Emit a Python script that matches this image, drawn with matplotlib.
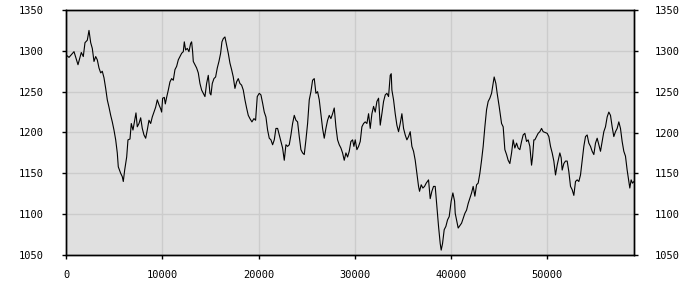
import matplotlib
matplotlib.use("Agg")
import matplotlib.pyplot as plt

x_vals = [
    0, 312, 831, 1246, 1589, 1796, 1973, 2212, 2388, 2565, 2731, 2908, 3084, 3250,
    3427, 3603, 3769, 3946, 4122, 4289, 4465, 4642, 4808, 4984, 5161, 5327, 5431,
    5680, 5846, 5950, 6095, 6303, 6438, 6646, 6781, 6957, 7134, 7269, 7404, 7580,
    7757, 7923, 8100, 8276, 8442, 8619, 8795, 8961, 9138, 9314, 9481, 9657, 9834,
    9934, 10038, 10211, 10315, 10453, 10626, 10799, 10972, 11145, 11318, 11492,
    11665, 11838, 12011, 12184, 12288, 12426, 12599, 12772, 12945, 13049, 13153,
    13222, 13395, 13568, 13741, 13914, 14087, 14260, 14433, 14606, 14779, 14953,
    15056, 15195, 15368, 15541, 15714, 15887, 16060, 16198, 16337, 16510, 16683,
    16856, 17029, 17202, 17375, 17548, 17721, 17894, 18067, 18240, 18414, 18587,
    18760, 18933, 19106, 19313, 19521, 19694, 19867,
    20076, 20249, 20422, 20595, 20768, 20941, 21114, 21287, 21461, 21634, 21807,
    21980, 22153, 22326, 22499, 22672, 22845, 23018, 23191, 23364, 23537, 23710,
    23883, 24056, 24229, 24402, 24575, 24748, 24922, 25095, 25268, 25441, 25614,
    25787, 25960, 26133, 26306, 26479, 26652, 26825, 26998, 27171, 27344, 27517,
    27690, 27863, 28036, 28209, 28383, 28556, 28729, 28902, 29075, 29248, 29421,
    29594, 29767, 29905,
    30044, 30217, 30390, 30563, 30736, 30909, 31082, 31255, 31429, 31602, 31775,
    31948, 32121, 32294, 32467, 32640, 32813, 32986, 33159, 33332, 33505, 33678,
    33782, 33851, 34024, 34197, 34370, 34543, 34716, 34890, 35063, 35236, 35409,
    35582, 35755, 35928, 36101, 36274, 36447, 36620, 36724, 36897, 37070, 37243,
    37416, 37658, 37831, 38004, 38177, 38350, 38523, 38697, 38870, 38973, 39112,
    39285, 39458, 39631, 39804,
    40010, 40186, 40362, 40430, 40737, 41090, 41432, 41609, 41775, 42128, 42294,
    42471, 42647, 42813, 42990, 43166, 43333, 43509, 43686, 43852, 44028, 44205,
    44371, 44475, 44651, 44786, 44994, 45243, 45410, 45586, 45763, 45929, 46105,
    46282, 46448, 46624, 46801, 46967, 47143, 47320, 47486, 47663, 47839, 48005,
    48182, 48358, 48462, 48597, 48701, 48877, 49044, 49220, 49397, 49563,
    49982, 50155, 50328, 50501, 50674, 50847, 51020, 51297, 51436, 51540, 51713,
    51886, 52059, 52232, 52405, 52578, 52751, 52924, 53097, 53270, 53443, 53616,
    53789, 53962, 54135, 54308, 54481, 54654, 54828, 55001, 55174, 55347, 55520,
    55693, 55866, 56039, 56212, 56385, 56558, 56731, 56904, 57077, 57250, 57423,
    57596, 57769, 57942, 58115, 58288, 58461, 58565, 58704, 58842, 59000,
]

y_vals = [
    1295, 1292, 1299, 1283, 1298, 1293, 1310, 1313, 1325, 1310, 1303, 1287, 1293, 1289,
    1279, 1273, 1275, 1267, 1254, 1240, 1231, 1221, 1213, 1203, 1191, 1175, 1158,
    1150, 1146, 1140, 1154, 1170, 1191, 1192, 1211, 1203, 1215, 1224, 1207, 1211,
    1218, 1205, 1197, 1193, 1203, 1215, 1211, 1219, 1225, 1231, 1240, 1234, 1229,
    1225, 1242, 1243, 1235, 1243, 1252, 1262, 1266, 1264, 1277, 1281,
    1289, 1293, 1297, 1299, 1311, 1301, 1303, 1299, 1309, 1311, 1299,
    1287, 1283, 1279, 1273, 1260, 1252, 1248, 1244, 1260, 1270, 1248,
    1246, 1260, 1266, 1268, 1279, 1287, 1297, 1311, 1315, 1317, 1307,
    1297, 1285, 1277, 1268, 1254, 1262, 1266, 1260, 1258, 1252, 1240,
    1230, 1221, 1217, 1213, 1217, 1215, 1244,
    1248, 1246, 1236, 1225, 1219, 1203, 1193, 1191, 1185, 1191, 1205,
    1205, 1197, 1189, 1181, 1166, 1185, 1183, 1185, 1197, 1211, 1221,
    1215, 1213, 1195, 1179, 1175, 1173, 1191, 1211, 1240, 1250, 1264,
    1266, 1248, 1250, 1240, 1223, 1205, 1193, 1205, 1215, 1221, 1217,
    1223, 1230, 1207, 1191, 1185, 1181, 1175, 1166, 1175, 1170, 1177,
    1189, 1191, 1183,
    1191, 1179, 1183, 1189, 1207, 1211, 1213, 1211, 1223, 1205, 1223,
    1232, 1225, 1238, 1242, 1209, 1223, 1238, 1246, 1248, 1244, 1270,
    1272, 1252, 1240, 1223, 1209, 1201, 1211, 1223, 1205, 1197, 1191,
    1195, 1201, 1183, 1177, 1166, 1150, 1134, 1128, 1136, 1132, 1134,
    1138, 1142, 1119, 1128, 1134, 1134, 1109, 1085, 1064, 1056, 1064,
    1081, 1085, 1093, 1097,
    1116, 1126, 1116, 1101, 1083, 1089, 1101, 1105, 1113, 1126, 1134,
    1122, 1136, 1138, 1150, 1166, 1183, 1207, 1228, 1238, 1242, 1248,
    1260, 1268, 1260, 1248, 1232, 1211, 1207, 1179, 1173, 1166, 1162,
    1175, 1191, 1181, 1187, 1181, 1179, 1189, 1197, 1199, 1189, 1191,
    1183, 1160, 1170, 1191, 1191, 1195, 1199, 1201, 1205, 1201,
    1199, 1195, 1183, 1175, 1165, 1148, 1160, 1175, 1169, 1154, 1162,
    1165, 1165, 1152, 1134, 1130, 1123, 1140, 1142, 1140, 1148, 1166,
    1183, 1195, 1197, 1187, 1183, 1177, 1173, 1187, 1193, 1185, 1177,
    1189, 1201, 1207, 1219, 1225, 1221, 1207, 1195, 1201, 1205, 1213,
    1205, 1189, 1177, 1171, 1154, 1140, 1132, 1142, 1138, 1140,
]

x_ticks = [0, 10000, 20000, 30000, 40000, 50000]
y_ticks = [1050, 1100, 1150, 1200, 1250, 1300, 1350]

plt.rcParams['font.family'] = ['DejaVu Sans Mono', 'DejaVu Sans']

fig = plt.figure(figsize=(7, 3), dpi=100)
ax = fig.add_axes([66/700, 45/300, 568/700, 245/300])
ax.set_facecolor('#e0e0e0')
ax.plot(x_vals, y_vals, color='black', linewidth=0.8)
ax.set_xlim(0, 59000)
ax.set_ylim(1050, 1350)
ax.set_xticks(x_ticks)
ax.set_yticks(y_ticks)
ax.grid(True, color='#cccccc', linewidth=1.0)
ax.set_axisbelow(True)
for s in ax.spines.values():
    s.set_color('black')
    s.set_linewidth(1.0)
ax.tick_params(axis='y', left=True, right=False, labelleft=True, labelright=False,
               direction='out', length=3, width=1, labelsize=7.5, pad=13)
ax.tick_params(axis='x', direction='out', length=3, width=1, labelsize=7.5, pad=8)

ax2 = ax.twinx()
ax2.set_ylim(1050, 1350)
ax2.set_yticks(y_ticks)
ax2.tick_params(axis='y', direction='out', length=3, width=1, labelsize=7.5, pad=12)
for s in ax2.spines.values():
    s.set_color('black')
    s.set_linewidth(1.0)

fig.savefig('out.png', dpi=100)
